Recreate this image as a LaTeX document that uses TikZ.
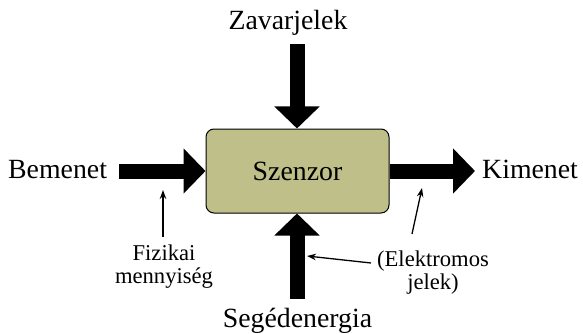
\documentclass[tikz,border=0pt]{standalone}
\usepackage{fontspec}
\newfontfamily\tnr{LiberationSerif-Regular.ttf}
\usetikzlibrary{arrows.meta}
\definecolor{boxfill}{RGB}{191,191,138}
\tikzset{
  bigtext/.style={font=\tnr\fontsize{27.8}{33}\selectfont, inner sep=0pt},
  smalltext/.style={font=\tnr\fontsize{22.6}{26}\selectfont, inner sep=0pt},
  bigarrow/.style={line width=15pt, -{Triangle[length=22pt 0 0, width=44pt 0 0]}},
  smallarrow/.style={line width=1.3pt, -{Stealth[length=9pt 0 0, width=6.5pt 0 0]}},
  sensor/.style={draw=black, line width=1pt, fill=boxfill, rounded corners=8pt,
    minimum width=183pt, minimum height=84pt, inner sep=0pt,
    font=\tnr\fontsize{27.8}{33}\selectfont}
}
\begin{document}
\begin{tikzpicture}[x=1pt,y=-1pt]
\useasboundingbox (0,0) rectangle (583,334);
\node[sensor] (box) at (297.5,171) {Szenzor};
\node[bigtext, anchor=base] (z) at (288,30) {Zavarjelek};
\node[bigtext, anchor=base west] (b) at (8,178) {Bemenet};
\node[bigtext, anchor=base west] (k) at (482,178) {Kimenet};
\node[bigtext, anchor=base] (s) at (297.5,327) {Segédenergia};
\node[smalltext, anchor=base] (f1) at (164,260) {Fizikai};
\node[smalltext, anchor=base] (f2) at (164,283) {mennyiség};
\node[smalltext, anchor=base] (e1) at (433,266) {(Elektromos};
\node[smalltext, anchor=base] (e2) at (433,289) {jelek)};
\coordinate (zs) at (297,44);
\coordinate (bs) at (119,171);
\coordinate (kt) at (475,171);
\coordinate (ss) at (297,299);
\draw[bigarrow] (zs) -- (box.north -| zs);
\draw[bigarrow] (bs) -- (box.west |- bs);
\draw[bigarrow] (box.east |- kt) -- (kt);
\draw[bigarrow] (ss) -- (box.south -| ss);
\coordinate (fs) at (163,237);
\coordinate (ft) at (163,190);
\coordinate (es) at (412,234);
\coordinate (et) at (422,188);
\coordinate (gs) at (371,263);
\coordinate (gt) at (307,256);
\draw[smallarrow] (fs) -- (ft);
\draw[smallarrow] (es) -- (et);
\draw[smallarrow] (gs) -- (gt);
\end{tikzpicture}
\end{document}
